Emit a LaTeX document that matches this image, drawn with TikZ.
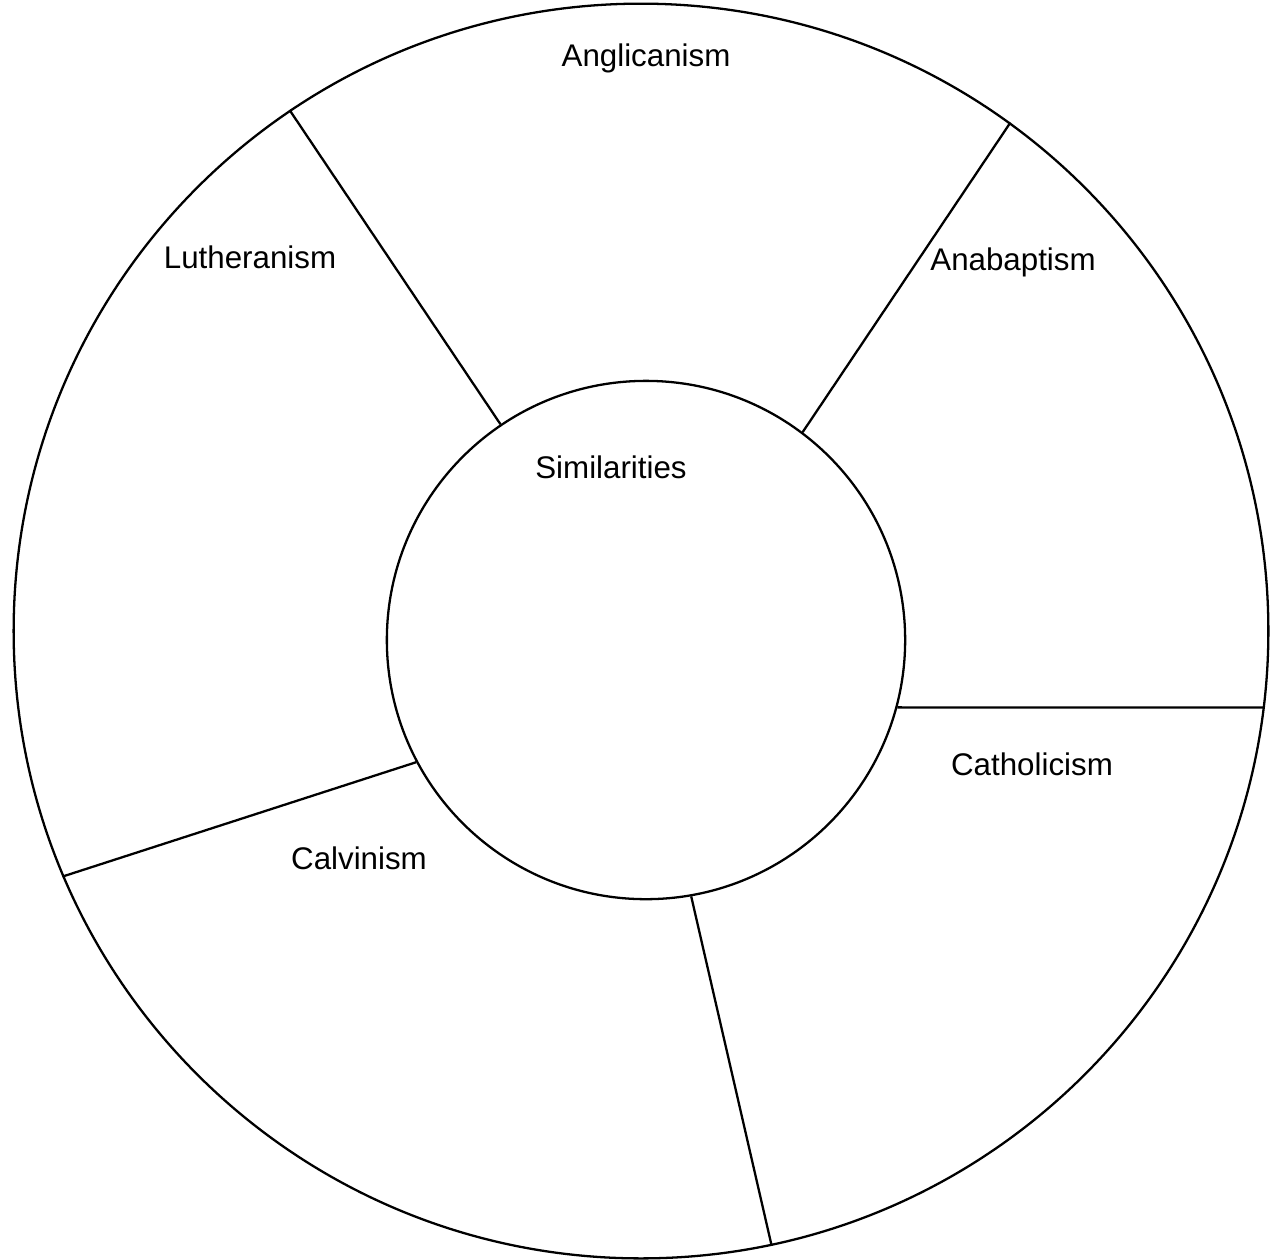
\documentclass[tikz,border=0pt]{standalone}
\usepackage{fontspec}
\setmainfont{Liberation Sans}
\usepackage{tikz}
\tikzstyle{ring} = [circle,draw=black,line width=0.65pt,inner sep=0pt,fill=none]
\tikzstyle{nomen} = [anchor=base,inner sep=0pt,text=black]
\tikzstyle{divide} = [line width=0.65pt,draw=black]

\begin{document}
\begin{tikzpicture}[x=0.01cm,y=-0.01cm]
\tikzstyle{every node}=[font=\fontsize{8.9}{10.5}\selectfont]
\useasboundingbox (0,0) rectangle (1276,1259);

\node (outer) [ring,minimum size=12.54cm] at (641,631) {};
\node (inner) [ring,minimum size=5.18cm] at (646,640) {};

\draw[divide] (inner.124) -- (outer.124);
\draw[divide] (inner.53.2) -- (outer.54.4);
\draw[divide] (inner.-15.9) -- (outer.-7.3);
\draw[divide] (inner.-80.9) -- (outer.-78.6);
\draw[divide] (inner.208.2) -- (outer.203.8);

\node (angl) [nomen] at (646,66) {Anglicanism};
\node (luth) [nomen] at (250,268) {Lutheranism};
\node (anab) [nomen] at (1013,270) {Anabaptism};
\node (cath) [nomen] at (1032,775) {Catholicism};
\node (calv) [nomen] at (359,869) {Calvinism};
\node (simi) [nomen] at (611,478) {Similarities};
\end{tikzpicture}
\end{document}
